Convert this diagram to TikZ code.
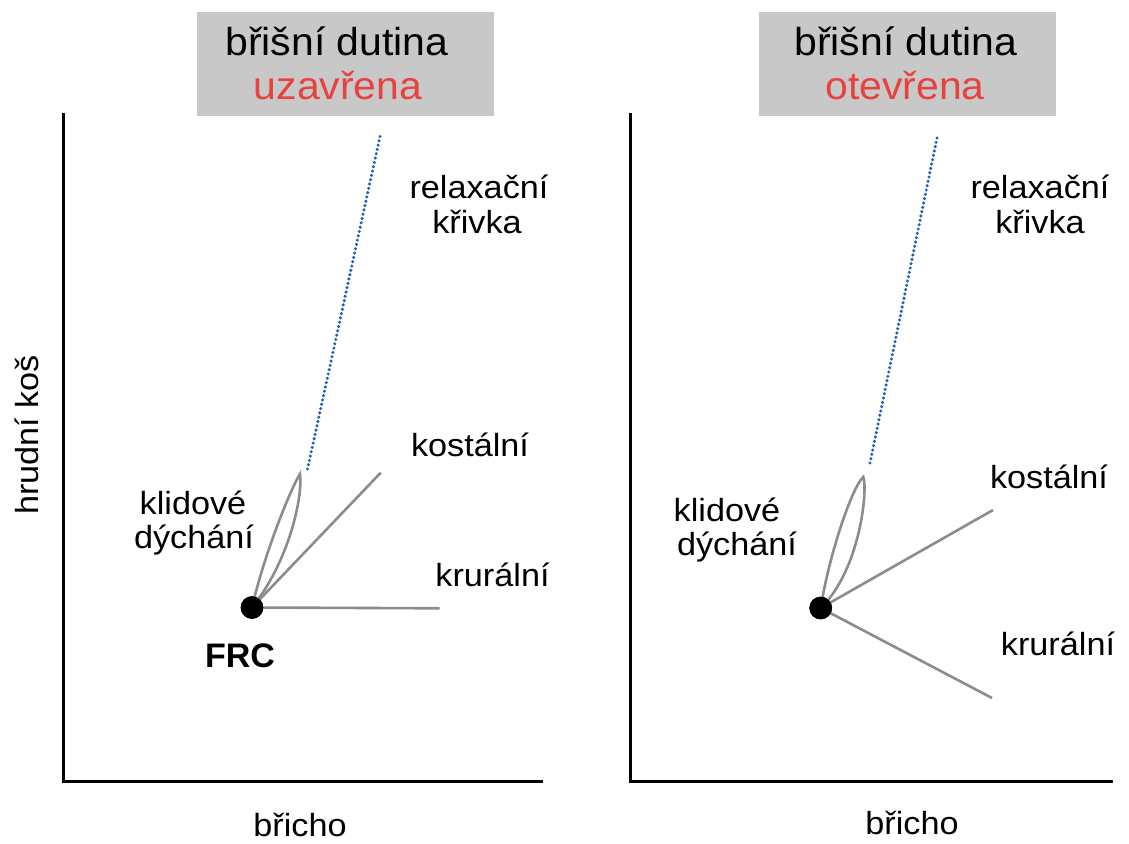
\documentclass[tikz,border=0pt]{standalone}
\usepackage{fontspec}
\usetikzlibrary{calc}
\newfontfamily\labelfont[FakeStretch=1.07]{Liberation Sans}
\newfontfamily\headfont[FakeStretch=1.05]{Liberation Sans}
\definecolor{headgray}{RGB}{200,200,200}
\definecolor{statered}{RGB}{232,65,62}
\definecolor{curvegray}{RGB}{140,140,140}
\definecolor{relaxblue}{RGB}{30,95,185}

\begin{document}
\begin{tikzpicture}[x=1pt,y=-1pt,
  axis/.style={line width=3pt,line join=miter},
  headbox/.style={fill=headgray,draw=none,minimum width=297pt,minimum height=104pt,inner sep=0pt},
  headtext/.style={font=\headfont\fontsize{39}{42}\selectfont,anchor=base,inner sep=0pt},
  lbl/.style={font=\labelfont\fontsize{32}{34}\selectfont,anchor=base,inner sep=0pt},
  frcdot/.style={circle,fill=black,minimum size=22.6pt,inner sep=0pt},
  muscle/.style={draw=curvegray,line width=2.6pt},
  relaxdot/.style={fill=relaxblue}]
\useasboundingbox (0,0) rectangle (1129,843);

% ---------- left panel: abdomen closed ----------
\coordinate (LyTop) at (63,113);
\coordinate (LxEnd) at (543,781);
\draw[axis] (LyTop) |- (LxEnd);

\node[headbox] (LHead) at (345.5,64) {};
\node[headtext] (LH1) at (337,56) {břišní dutina};
\node[headtext,text=statered] (LH2) at (338,99) {uzavřena};

% dotted relaxation curve
\coordinate (LRelaxA) at (307.5,469);
\coordinate (LRelaxB) at (380,136.5);
\foreach \i in {0,...,77}
  \fill[relaxdot] ($(LRelaxA)!\i/77!(LRelaxB)$) circle (1.7pt);

\coordinate (LTip) at (300,474);
\coordinate (LKost) at (380.7,472.7);
\coordinate (LKrur) at (439.5,608.3);
\node[frcdot] (LFRC) at (252,607.5) {};
\draw[muscle] (LFRC.center) .. controls (264,555) and (290,490) .. (LTip)
  .. controls (303,495) and (290,560) .. (LFRC.center);
\draw[muscle] (LFRC.center) -- (LKost);
\draw[muscle] (LFRC.center) -- (LKrur);
\node[frcdot] (LFRCtop) at (252,607.5) {};

\node[lbl] (LRel1) at (479,198) {relaxační};
\node[lbl] (LRel2) at (477,233) {křivka};
\node[lbl] (LKostL) at (470,456) {kostální};
\node[lbl] (LKlid1) at (193,514) {klidové};
\node[lbl] (LKlid2) at (194,548) {dýchání};
\node[lbl] (LKrurL) at (492.5,586) {krurální};
\node[lbl,font=\fontspec{Liberation Sans}\bfseries\fontsize{34}{36}\selectfont] (LFRCL) at (240,667) {FRC};
\node[lbl] (LXlab) at (300,836) {břicho};
\node[lbl,rotate=90] (LYlab) at (38,435) {hrudní koš};

% ---------- right panel: abdomen open ----------
\coordinate (RyTop) at (630,113);
\coordinate (RxEnd) at (1113,781);
\draw[axis] (RyTop) |- (RxEnd);

\node[headbox] (RHead) at (907.5,64) {};
\node[headtext] (RH1) at (906,56) {břišní dutina};
\node[headtext,text=statered] (RH2) at (905,99) {otevřena};

% dotted relaxation curve
\coordinate (RRelaxA) at (870,463);
\coordinate (RRelaxB) at (937,138);
\foreach \i in {0,...,75}
  \fill[relaxdot] ($(RRelaxA)!\i/75!(RRelaxB)$) circle (1.7pt);

\coordinate (RTip) at (863.3,477);
\coordinate (RKost) at (993,510);
\coordinate (RKrur) at (992,698);
\node[frcdot] (RFRC) at (820.7,608) {};
\draw[muscle] (RFRC.center) .. controls (829,555) and (852,487) .. (RTip)
  .. controls (868,490) and (860,570) .. (RFRC.center);
\draw[muscle] (RFRC.center) -- (RKost);
\draw[muscle] (RFRC.center) -- (RKrur);
\node[frcdot] (RFRCtop) at (820.7,608) {};

\node[lbl] (RRel1) at (1040,198) {relaxační};
\node[lbl] (RRel2) at (1040,233) {křivka};
\node[lbl] (RKostL) at (1049,488) {kostální};
\node[lbl] (RKlid1) at (727,521) {klidové};
\node[lbl] (RKlid2) at (737,555) {dýchání};
\node[lbl] (RKrurL) at (1058,655) {krurální};
\node[lbl] (RXlab) at (912,834) {břicho};
\end{tikzpicture}
\end{document}
